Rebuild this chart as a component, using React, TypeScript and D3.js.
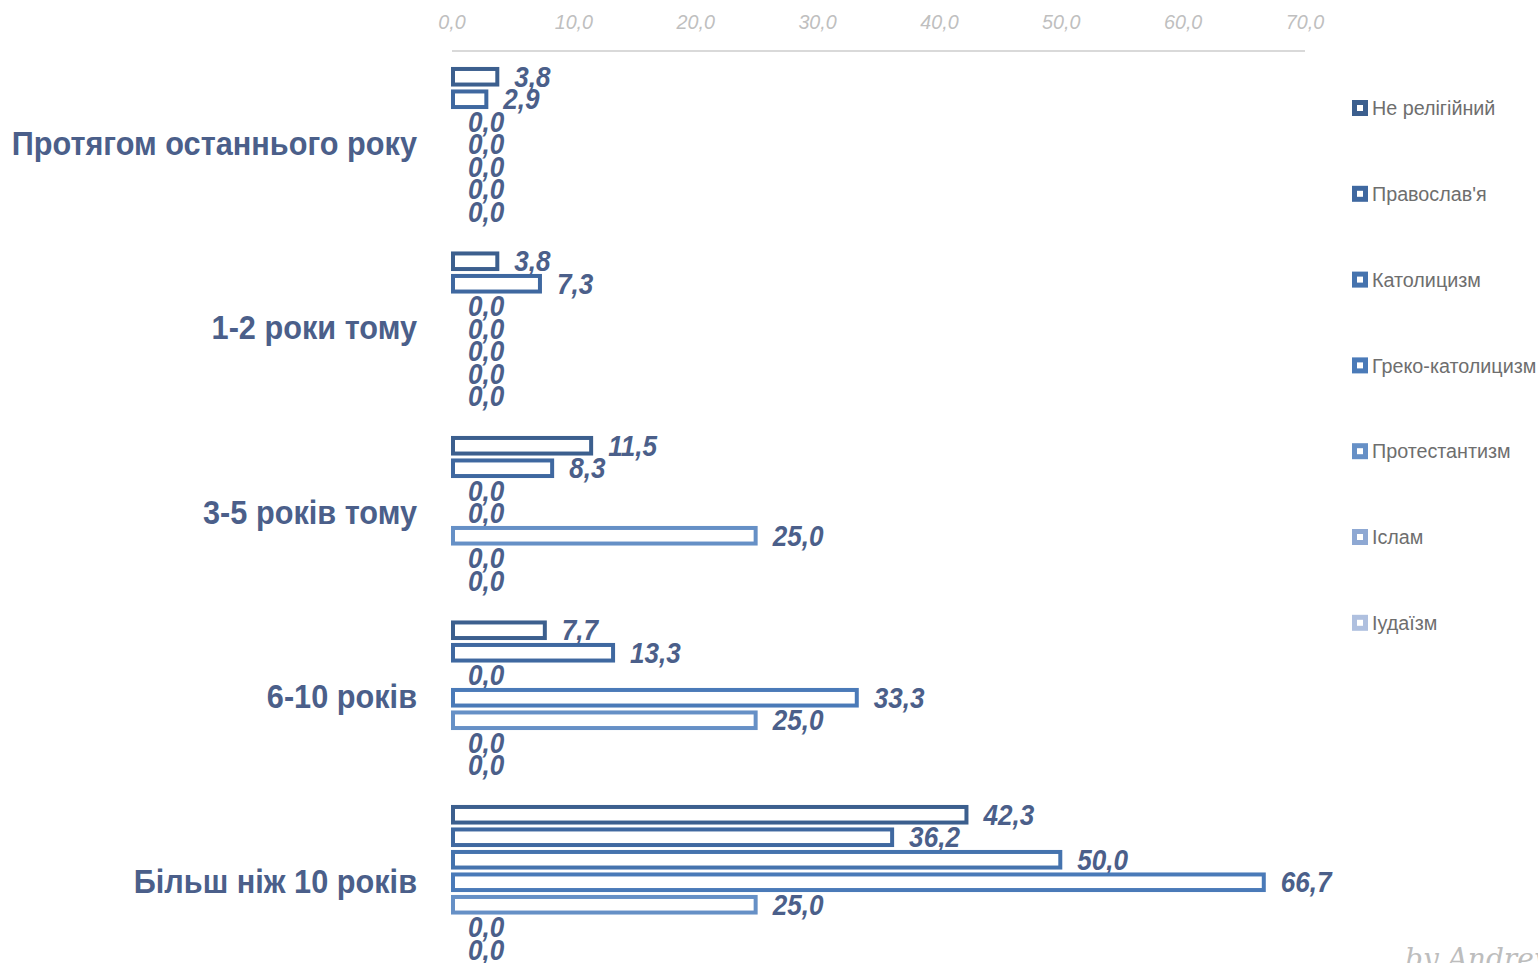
import React from "react";
import * as d3 from "d3";

const categories = [
  "Протягом останнього року",
  "1-2 роки тому",
  "3-5 років тому",
  "6-10 років",
  "Більш ніж 10 років",
];
const seriesNames = [
  "Не релігійний",
  "Православ'я",
  "Католицизм",
  "Греко-католицизм",
  "Протестантизм",
  "Іслам",
  "Іудаїзм",
];
const seriesColors = ["#3C5F8E", "#3F68A0", "#4573AE", "#4A7AB8", "#6690C6", "#8EA8D3", "#AFC0DF"];
const notReligious = [3.8, 3.8, 11.5, 7.7, 42.3];
const orthodox = [2.9, 7.3, 8.3, 13.3, 36.2];
const catholic = [0, 0, 0, 0, 50.0];
const greekCatholic = [0, 0, 0, 33.3, 66.7];
const protestant = [0, 0, 25.0, 25.0, 25.0];
const islam = [0, 0, 0, 0, 0];
const judaism = [0, 0, 0, 0, 0];
const seriesValues = [notReligious, orthodox, catholic, greekCatholic, protestant, islam, judaism];
const tickValues = [0, 10, 20, 30, 40, 50, 60, 70];

const W = 1538;
const H = 963;
const FONT = "'Liberation Sans', Arial, sans-serif";
const labelColor = "#4B5F8A";

// condensed text: Liberation Sans scaled horizontally
function NText(props: {
  x: number;
  y: number;
  anchor?: string;
  size: number;
  sx: number;
  weight?: string;
  italic?: boolean;
  fill: string;
  children: React.ReactNode;
}) {
  return (
    <text
      transform={`translate(${props.x},${props.y}) scale(${props.sx},1)`}
      textAnchor={props.anchor || "start"}
      dominantBaseline="central"
      fontFamily={FONT}
      fontWeight={props.weight || "normal"}
      fontStyle={props.italic ? "italic" : "normal"}
      fontSize={props.size}
      fill={props.fill}
    >
      {props.children}
    </text>
  );
}

export default function App() {
  const x = d3.scaleLinear().domain([0, 70]).range([452, 1305]);
  const y = d3.scaleBand<string>().domain(categories).range([52, 52 + 5 * 184.5]);
  const inner = d3
    .scaleBand<string>()
    .domain(seriesNames)
    .range([13.5, 171])
    .paddingInner(0.13)
    .paddingOuter(0.065);
  const fmt = (v: number) => d3.format(".1f")(v).replace(".", ",");
  const bh = inner.bandwidth();
  const sw = 4;

  return (
    <svg
      width={W}
      height={H}
      style={{ position: "absolute", left: 0, top: 0, background: "#fff" }}
    >
      {/* axis */}
      <line x1={x(0)} x2={x(70)} y1={51} y2={51} stroke="#D9D9D9" strokeWidth={2} />
      {tickValues.map((t) => (
        <NText key={t} x={x(t)} y={22} anchor="middle" size={21} sx={0.94} italic fill="#BFBFBF">
          {fmt(t)}
        </NText>
      ))}

      {/* category labels */}
      {categories.map((c) => (
        <NText
          key={c}
          x={417}
          y={(y(c) as number) + y.bandwidth() / 2 - 1}
          anchor="end"
          size={33}
          sx={0.93}
          weight="bold"
          fill={labelColor}
        >
          {c}
        </NText>
      ))}

      {/* bars */}
      {categories.map((c, ci) =>
        seriesNames.map((s, si) => {
          const v = seriesValues[si][ci];
          const top = (y(c) as number) + (inner(s) as number);
          const cy = top + bh / 2;
          const x1 = x(v);
          return (
            <g key={c + s}>
              {v > 0 && (
                <rect
                  x={x(0) + 1}
                  y={top + sw / 2}
                  width={Math.max(0, x1 - x(0) - 2)}
                  height={bh - sw}
                  fill="#fff"
                  stroke={seriesColors[si]}
                  strokeWidth={sw}
                />
              )}
              <NText x={x1 + 16} y={cy} size={30} sx={0.87} weight="bold" italic fill={labelColor}>
                {fmt(v)}
              </NText>
            </g>
          );
        })
      )}

      {/* legend */}
      {seriesNames.map((s, i) => {
        const ly = 108 + i * 85.8;
        return (
          <g key={s}>
            <rect x={1352} y={ly - 8} width={16} height={16} fill={seriesColors[i]} />
            <rect x={1357} y={ly - 3} width={6} height={6} fill="#fff" />
            <NText x={1372} y={ly} size={21} sx={0.94} fill="#6E6E6E">
              {s}
            </NText>
          </g>
        );
      })}

      {/* watermark */}
      <text
        x={1405}
        y={968}
        fontFamily="'DejaVu Serif', serif"
        fontStyle="italic"
        fontSize={28}
        fill="#BDBDBD"
      >
        by Andrey C
      </text>
    </svg>
  );
}
